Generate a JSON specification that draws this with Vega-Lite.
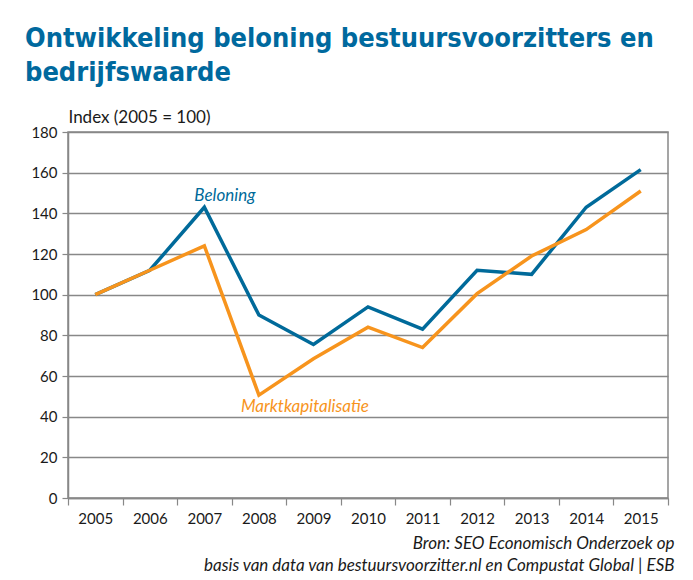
{
  "$schema": "https://vega.github.io/schema/vega-lite/v6.json",
  "width": 600,
  "height": 366,
  "autosize": "none",
  "padding": {"left": 68, "top": 132, "right": 25, "bottom": 82},
  "background": "white",
  "title": {
    "text": ["Ontwikkeling beloning bestuursvoorzitters en", "bedrijfswaarde"],
    "anchor": "start",
    "frame": "group",
    "dx": -43,
    "dy": -9,
    "font": "DejaVu Sans Condensed",
    "fontSize": 27,
    "fontWeight": "bold",
    "color": "#00699E",
    "lineHeight": 34,
    "offset": 12
  },
  "datasets": {
    "series": [
      {"year": "2005", "series": "Beloning", "value": 100},
      {"year": "2006", "series": "Beloning", "value": 112},
      {"year": "2007", "series": "Beloning", "value": 143},
      {"year": "2008", "series": "Beloning", "value": 90},
      {"year": "2009", "series": "Beloning", "value": 75.5},
      {"year": "2010", "series": "Beloning", "value": 94},
      {"year": "2011", "series": "Beloning", "value": 83},
      {"year": "2012", "series": "Beloning", "value": 112},
      {"year": "2013", "series": "Beloning", "value": 110},
      {"year": "2014", "series": "Beloning", "value": 143},
      {"year": "2015", "series": "Beloning", "value": 161.5},
      {"year": "2005", "series": "Marktkapitalisatie", "value": 100},
      {"year": "2006", "series": "Marktkapitalisatie", "value": 112},
      {"year": "2007", "series": "Marktkapitalisatie", "value": 124},
      {"year": "2008", "series": "Marktkapitalisatie", "value": 50.6},
      {"year": "2009", "series": "Marktkapitalisatie", "value": 68.5},
      {"year": "2010", "series": "Marktkapitalisatie", "value": 84},
      {"year": "2011", "series": "Marktkapitalisatie", "value": 74},
      {"year": "2012", "series": "Marktkapitalisatie", "value": 100.5},
      {"year": "2013", "series": "Marktkapitalisatie", "value": 119},
      {"year": "2014", "series": "Marktkapitalisatie", "value": 132},
      {"year": "2015", "series": "Marktkapitalisatie", "value": 151}
    ],
    "labels": [
      {"year": "2007", "series": "Beloning", "value": 148.4, "label": "Beloning"},
      {"year": "2008", "series": "Marktkapitalisatie", "value": 44.7, "label": "Marktkapitalisatie"}
    ]
  },
  "layer": [
    {
      "data": {"name": "series"},
      "mark": {"type": "line", "strokeWidth": 3.5, "strokeJoin": "miter"},
      "encoding": {
        "x": {
          "field": "year",
          "type": "ordinal",
          "scale": {"type": "band", "paddingInner": 0, "paddingOuter": 0},
          "axis": {
            "title": ["Bron: SEO Economisch Onderzoek op", "basis van data van bestuursvoorzitter.nl en Compustat Global | ESB"],
            "titleFont": "Lato",
            "titleFontStyle": "italic",
            "titleFontWeight": "normal",
            "titleFontSize": 17,
            "titleColor": "#1a1a1a",
            "titleAnchor": "end",
            "titleAlign": "right",
            "titleBaseline": "alphabetic",
            "titleX": 606,
            "titleY": 50,
            "titleLineHeight": 22,
            "labelAngle": 0,
            "labelFont": "Lato",
            "labelFontSize": 15,
            "labelColor": "#1a1a1a",
            "labelPadding": 6,
            "tickBand": "extent",
            "tickSize": 7,
            "tickColor": "#888888",
            "tickWidth": 1.2,
            "domainColor": "#888888",
            "domainWidth": 1.5,
            "grid": false
          }
        },
        "y": {
          "field": "value",
          "type": "quantitative",
          "scale": {"domain": [0, 180], "nice": false},
          "axis": {
            "values": [0, 20, 40, 60, 80, 100, 120, 140, 160, 180],
            "title": "Index (2005 = 100)",
            "titleFont": "Lato",
            "titleFontWeight": "normal",
            "titleFontSize": 17,
            "titleColor": "#1a1a1a",
            "titleAngle": 0,
            "titleAlign": "left",
            "titleBaseline": "alphabetic",
            "titleX": 0,
            "titleY": -10,
            "labelFont": "Lato",
            "labelFontSize": 15,
            "labelColor": "#1a1a1a",
            "labelPadding": 5,
            "tickSize": 6,
            "tickColor": "#888888",
            "tickWidth": 1.2,
            "domainColor": "#888888",
            "domainWidth": 1.5,
            "gridColor": "#888888",
            "gridWidth": 1.5
          }
        },
        "color": {
          "field": "series",
          "type": "nominal",
          "scale": {"domain": ["Beloning", "Marktkapitalisatie"], "range": ["#006A9A", "#F7941D"]},
          "legend": null
        }
      }
    },
    {
      "data": {"name": "labels"},
      "transform": [{"filter": "datum.series === 'Beloning'"}],
      "mark": {"type": "text", "font": "Lato", "fontStyle": "italic", "fontSize": 17, "align": "left", "baseline": "middle", "dx": -10},
      "encoding": {
        "x": {"field": "year", "type": "ordinal"},
        "y": {"field": "value", "type": "quantitative"},
        "text": {"field": "label"},
        "color": {"field": "series", "type": "nominal", "legend": null}
      }
    },
    {
      "data": {"name": "labels"},
      "transform": [{"filter": "datum.series === 'Marktkapitalisatie'"}],
      "mark": {"type": "text", "font": "Lato", "fontStyle": "italic", "fontSize": 17, "align": "left", "baseline": "middle", "dx": -18},
      "encoding": {
        "x": {"field": "year", "type": "ordinal"},
        "y": {"field": "value", "type": "quantitative"},
        "text": {"field": "label"},
        "color": {"field": "series", "type": "nominal", "legend": null}
      }
    }
  ],
  "config": {
    "view": {"stroke": "#888888", "strokeWidth": 1.5}
  }
}
